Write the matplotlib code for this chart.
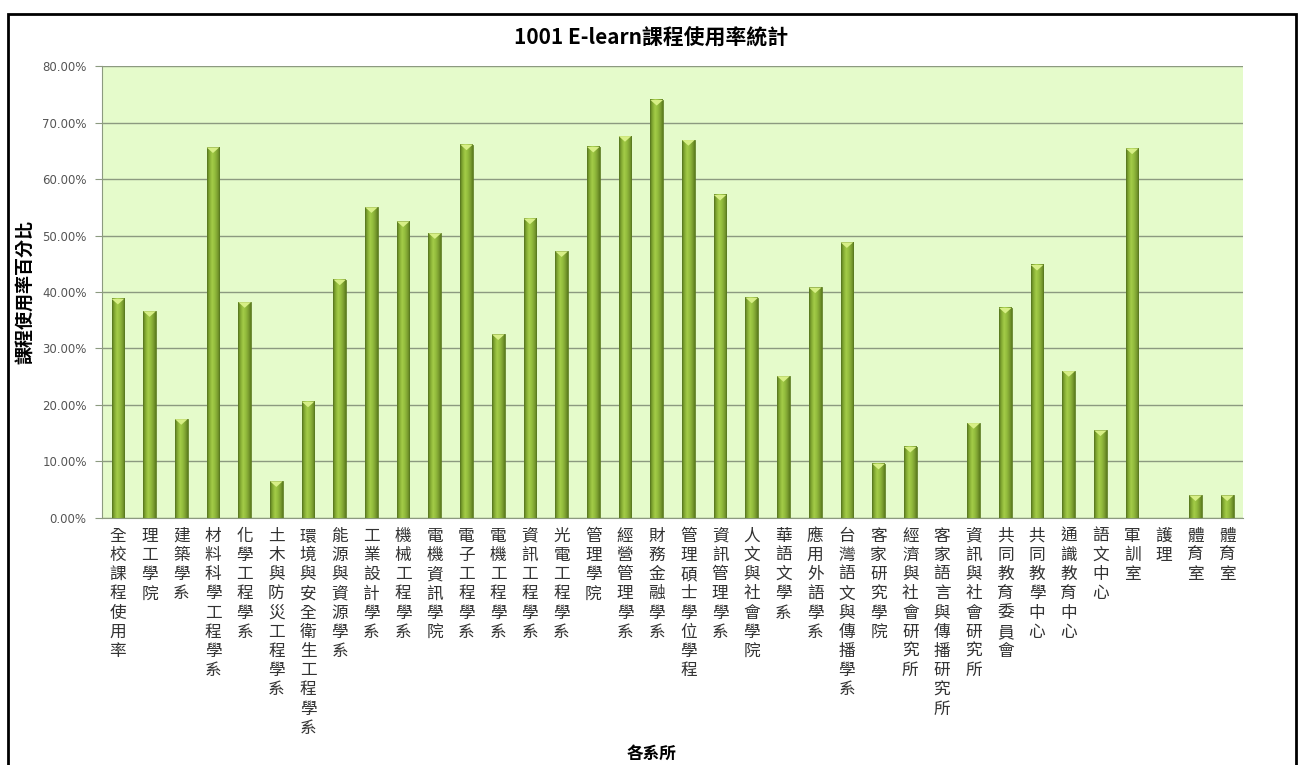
import numpy as np
import matplotlib.pyplot as plt
from matplotlib.colors import LinearSegmentedColormap
from matplotlib.patches import Polygon, Rectangle

plt.rcParams['font.family'] = ['Noto Sans CJK TC', 'DejaVu Sans']

# Data
departments = ['全校課程使用率', '理工學院', '建築學系', '材料科學工程學系', '化學工程學系',
               '土木與防災工程學系', '環境與安全衛生工程學系', '能源與資源學系', '工業設計學系',
               '機械工程學系', '電機資訊學院', '電子工程學系', '電機工程學系', '資訊工程學系',
               '光電工程學系', '管理學院', '經營管理學系', '財務金融學系', '管理碩士學位學程',
               '資訊管理學系', '人文與社會學院', '華語文學系', '應用外語學系', '台灣語文與傳播學系',
               '客家研究學院', '經濟與社會研究所', '客家語言與傳播研究所', '資訊與社會研究所',
               '共同教育委員會', '共同教學中心', '通識教育中心', '語文中心', '軍訓室', '護理',
               '體育室', '體育室']
usage_pct = [38.8, 36.6, 17.5, 65.6, 38.2,
             6.5, 20.6, 42.2, 55.0,
             52.5, 50.4, 66.1, 32.5, 53.0,
             47.2, 65.7, 67.6, 74.0, 66.9,
             57.2, 39.0, 25.1, 40.8, 48.8,
             9.6, 12.6, 0.0, 16.8,
             37.2, 44.8, 26.0, 15.5, 65.4, 0.0,
             4.0, 4.0]
yticks = [0, 10, 20, 30, 40, 50, 60, 70, 80]

fig = plt.figure(figsize=(13.03, 7.65), dpi=100)
ax = fig.add_axes([0.0783, 0.3229, 0.8757, 0.5908])
ax.set_facecolor('#e5fbcb')

x = np.arange(len(departments))
w = 0.4
ax.set_xlim(-0.5, len(departments) - 0.5)
ax.set_ylim(0, 80)

# cylinder-like shading for each bar
cmap = LinearSegmentedColormap.from_list(
    'bevel', ['#5a7a1c', '#86ad34', '#a4cc48', '#94bd3e', '#7ea232', '#5c7c1d'])
grad = np.linspace(0, 1, 64).reshape(1, -1)
for xi, v in zip(x, usage_pct):
    if v <= 0:
        continue
    ax.imshow(grad, cmap=cmap, aspect='auto', extent=(xi - w / 2, xi + w / 2, 0, v),
              zorder=3, interpolation='bilinear')
    ax.add_patch(Rectangle((xi - w / 2, 0), w, v, fill=False, ec='#5b7a20', lw=0.6, zorder=4))
    cap = min(1.0, v * 0.4)
    ax.add_patch(Polygon([(xi - w / 2, v), (xi + w / 2, v), (xi, v - cap)],
                         closed=True, fc='#d7ef86', ec='none', zorder=4))

ax.set_yticks(yticks)
ax.set_yticklabels([f'{t:.2f}%' for t in yticks], fontsize=8.5, color='#555555',
                   family=['Verdana', 'DejaVu Sans'])
ax.yaxis.grid(True, color='#8c9a80', lw=1)
ax.set_axisbelow(True)
ax.tick_params(axis='y', length=5, color='#8c9a80', pad=6)

ax.set_xticks(x)
ax.set_xticklabels(['\n'.join(d) for d in departments], fontsize=12, color='#333333',
                   va='top', linespacing=1.17)
ax.tick_params(axis='x', length=0, pad=7)

for side in ['top', 'right']:
    ax.spines[side].set_visible(False)
ax.spines['left'].set_color('#8c9a80')
ax.spines['bottom'].set_color('#8c9a80')

ax.set_ylabel('課程使用率百分比', fontsize=13, fontweight='bold', labelpad=5)
fig.text(0.5, 0.95, '1001 E-learn課程使用率統計', fontsize=15, fontweight='bold',
         ha='center', va='center')
fig.text(0.5, 0.003, '各系所', fontsize=12, fontweight='bold', ha='center', va='bottom')

# outer chart border
fig.patches.append(Rectangle((8 / 1303, -0.05), 1288 / 1303, 1 - 14 / 765 + 0.05,
                             transform=fig.transFigure, fill=False, ec='black', lw=2))

fig.savefig('out.png', dpi=100)
